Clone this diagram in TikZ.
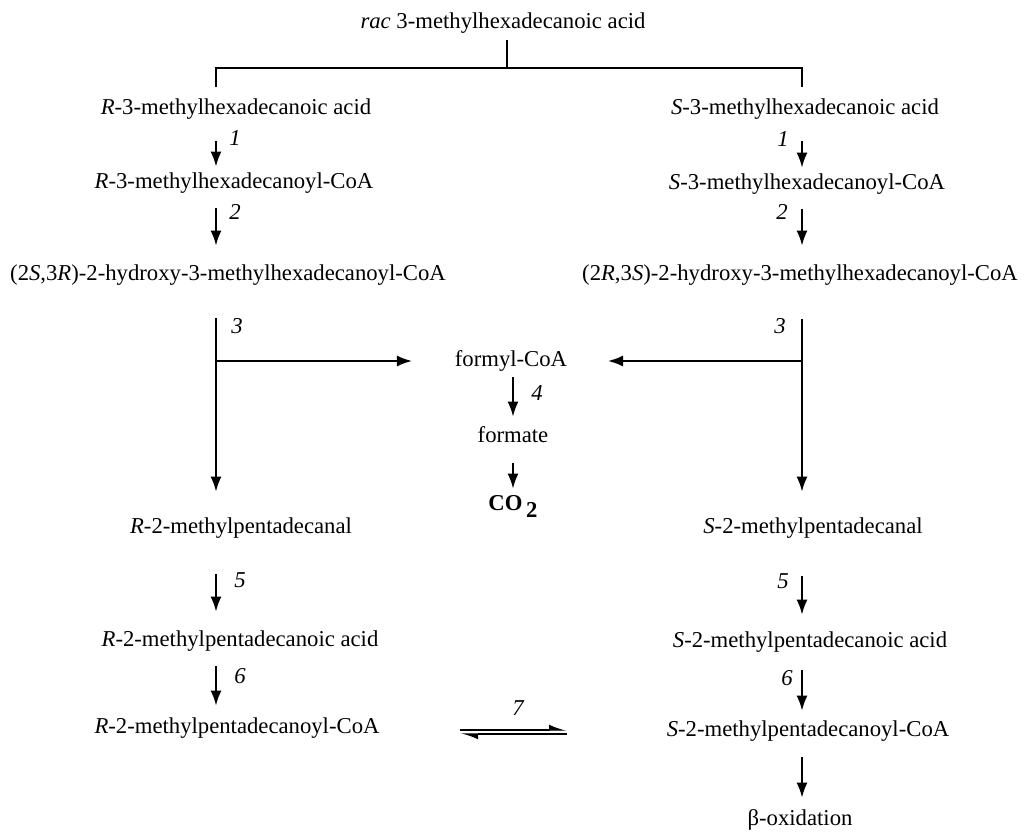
\documentclass[tikz,border=0pt]{standalone}
\usepackage{fontspec}
\setmainfont{Liberation Serif}
\usetikzlibrary{arrows.meta}

\begin{document}
\begin{tikzpicture}[x=1pt,y=-1pt,line width=1.8pt,>={Latex[length=15pt,width=11pt]},
  every node/.style={font=\fontsize{22.7}{27}\selectfont,inner sep=0pt,text height=16pt,text depth=5pt},
  stepno/.style={font=\fontsize{22.7}{27}\selectfont\itshape},
  bracket/.style={line width=1.4pt},
  harp/.style={line width=1.4pt,-{Latex[harpoon,length=15pt,width=11pt]}}]
  \useasboundingbox (0,0) rectangle (1027,832);
  % column lines
  \coordinate (lx) at (216,0);
  \coordinate (rx) at (802,0);
  % racemate and split
  \node (rac) at (503,23) {\textit{rac} 3-methylhexadecanoic acid};
  \coordinate (jn) at (507,68);
  \node (rA) at (236,109) {\textit{R}-3-methylhexadecanoic acid};
  \node (sA) at (805,109) {\textit{S}-3-methylhexadecanoic acid};
  \draw[bracket,shorten <=6pt] (rac.south -| jn) -- (jn);
  \draw[bracket,shorten <=11pt,shorten >=11pt] (lx |- rA.north) |- (jn) -| (rx |- sA.north);
  % CoA esters
  \node (rB) at (234,183) {\textit{R}-3-methylhexadecanoyl-CoA};
  \node (sB) at (807,184) {\textit{S}-3-methylhexadecanoyl-CoA};
  \node (rC) at (228,275) {(2\textit{S},3\textit{R})-2-hydroxy-3-methylhexadecanoyl-CoA};
  \node (sC) at (800,275) {(2\textit{R},3\textit{S})-2-hydroxy-3-methylhexadecanoyl-CoA};
  % aldehydes, acids
  \node (rD) at (241,528) {\textit{R}-2-methylpentadecanal};
  \node (sD) at (813,528) {\textit{S}-2-methylpentadecanal};
  \node (rE) at (240,641) {\textit{R}-2-methylpentadecanoic acid};
  \node (sE) at (810,642) {\textit{S}-2-methylpentadecanoic acid};
  \node (rF) at (237,728) {\textit{R}-2-methylpentadecanoyl-CoA};
  \node (sF) at (808,731) {\textit{S}-2-methylpentadecanoyl-CoA};
  \node (box) at (800,820) {β-oxidation};
  % middle branch
  \node (fcoa) at (511,361) {formyl-CoA};
  \node (fmt) at (513,437) {formate};
  \node (co2) at (513,505) {\bfseries CO\raisebox{-0.3em}{\,2}};
  % left arrows
  \draw[->,shorten <=21pt,shorten >=5pt] (lx |- rA.south) -- (lx |- rB.north);
  \draw[->,shorten <=14pt,shorten >=18pt] (lx |- rB.south) -- (lx |- rC.north);
  \draw[->,shorten <=32pt,shorten >=25pt] (lx |- rC.south) -- (lx |- rD.north);
  \draw[->,shorten <=35pt,shorten >=18pt] (lx |- rD.south) -- (lx |- rE.north);
  \draw[->,shorten <=14pt,shorten >=11pt] (lx |- rE.south) -- (lx |- rF.north);
  % right arrows
  \draw[->,shorten <=21pt,shorten >=5pt] (rx |- sA.south) -- (rx |- sB.north);
  \draw[->,shorten <=14pt,shorten >=18pt] (rx |- sB.south) -- (rx |- sC.north);
  \draw[->,shorten <=33pt,shorten >=25pt] (rx |- sC.south) -- (rx |- sD.north);
  \draw[->,shorten <=37pt,shorten >=16pt] (rx |- sD.south) -- (rx |- sE.north);
  \draw[->,shorten <=17pt,shorten >=9pt] (rx |- sE.south) -- (rx |- sF.north);
  \draw[->,shorten <=15pt,shorten >=11pt] (rx |- sF.south) -- (rx |- box.north);
  % formyl-CoA branches
  \draw[->,shorten >=42pt] (lx |- fcoa) -- (fcoa.west);
  \draw[->,shorten >=40pt] (rx |- fcoa) -- (fcoa.east);
  \draw[->,shorten <=5pt,shorten >=9pt] (fcoa.south -| fmt) -- (fmt.north);
  \draw[->,shorten <=15pt,shorten >=5pt] (fmt.south) -- (co2.north -| fmt);
  % epimerase
  \coordinate (eqt) at (514,730);
  \coordinate (eqb) at (514,734);
  \draw[harp,shorten <=80pt,shorten >=99pt] (rF.east |- eqt) -- (sF.west |- eqt);
  \draw[harp,shorten <=99pt,shorten >=80pt] (sF.west |- eqb) -- (rF.east |- eqb);
  % step numbers
  \node[stepno] (l1L) at (235,140) {1};
  \node[stepno] (l2L) at (235,214) {2};
  \node[stepno] (l3L) at (237,328) {3};
  \node[stepno] (l5L) at (240,582) {5};
  \node[stepno] (l6L) at (240,678) {6};
  \node[stepno] (l1R) at (783,141) {1};
  \node[stepno] (l2R) at (782,214) {2};
  \node[stepno] (l3R) at (780,328) {3};
  \node[stepno] (l5R) at (783,583) {5};
  \node[stepno] (l6R) at (787,680) {6};
  \node[stepno] (l4) at (537,395) {4};
  \node[stepno] (l7) at (518,710) {7};
\end{tikzpicture}
\end{document}
